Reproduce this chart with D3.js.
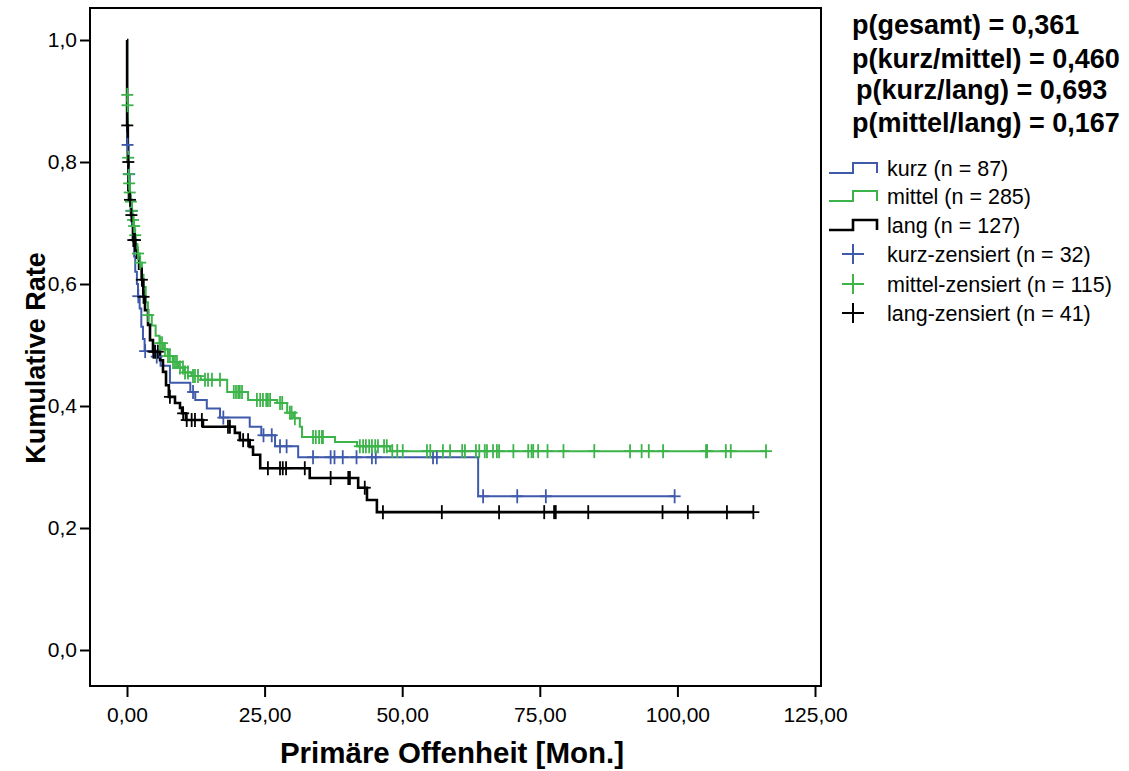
<!DOCTYPE html>
<html>
<head>
<meta charset="utf-8">
<script src="https://cdn.jsdelivr.net/npm/d3@7"></script>
<style>
  html, body { margin: 0; padding: 0; background: #fff; }
  svg { display: block; font-family: "Liberation Sans", Arial, sans-serif; }
</style>
</head>
<body>
<svg id="chart" width="1129" height="771"></svg>
<script>
// Kaplan-Meier estimates: event times (months) and survival after each step
const kurzTimes    = [0.02, 0.3, 0.5, 0.7, 0.9, 1.1, 1.3, 1.5, 1.8, 2.0, 2.3, 2.6, 2.9, 3.2, 4.8, 6.1, 7.8, 11.5, 12.4, 14.5, 16.9, 22.3, 24.4, 26.9, 31.1, 63.8];
const kurzSurvival = [0.828, 0.78, 0.745, 0.72, 0.695, 0.67, 0.645, 0.62, 0.60, 0.58, 0.56, 0.53, 0.51, 0.49, 0.481, 0.466, 0.438, 0.423, 0.41, 0.396, 0.381, 0.366, 0.352, 0.334, 0.316, 0.252];
const kurzCensored = [0.1, 0.4, 0.8, 2.05, 3.3, 5.4, 12.0, 17.5, 24.8, 26.3, 27.8, 29.0, 33.8, 37.0, 37.7, 39.2, 41.7, 44.5, 45.2, 55.6, 56.3, 64.7, 70.9, 76.1, 99.5];

const mittelTimes    = [0.02, 0.08, 0.15, 0.2, 0.27, 0.35, 0.45, 0.6, 0.8, 1.0, 1.2, 1.4, 1.6, 1.9, 2.3, 2.7, 3.0, 3.4, 3.8, 4.5, 5.2, 5.9, 6.6, 7.4, 8.3, 9.3, 10.5, 11.7, 13.4, 18.2, 22.0, 27.3, 29.1, 30.2, 31.4, 31.8, 37.8, 41.8, 47.8];
const mittelSurvival = [0.91, 0.893, 0.83, 0.807, 0.78, 0.765, 0.75, 0.735, 0.72, 0.705, 0.695, 0.68, 0.665, 0.65, 0.635, 0.615, 0.595, 0.57, 0.549, 0.532, 0.515, 0.503, 0.493, 0.482, 0.472, 0.463, 0.455, 0.449, 0.443, 0.423, 0.410, 0.405, 0.389, 0.380, 0.366, 0.349, 0.341, 0.334, 0.326];
const mittelCensored = [0.05, 0.1, 0.22, 0.3, 0.4, 0.5, 0.7, 0.9, 1.1, 1.3, 1.5, 2.0, 2.4, 3.85, 6.0, 6.36, 6.9, 7.45, 7.8, 8.36, 8.72, 9.08, 9.63, 10.17, 10.54, 11.08, 11.99, 12.35, 12.9, 14.17, 14.72, 15.44, 16.9, 19.4, 19.8, 20.2, 20.5, 20.9, 23.6, 24.2, 24.7, 25.3, 25.6, 26.0, 27.8, 28.2, 29.6, 29.9, 30.5, 33.8, 34.3, 34.9, 35.4, 35.6, 42.3, 42.9, 43.4, 44.0, 44.5, 45.1, 45.6, 46.7, 47.2, 48.2, 49.1, 50.1, 54.5, 55.1, 57.4, 58.7, 60.9, 61.4, 63.4, 64.0, 65.0, 65.4, 66.5, 67.2, 67.6, 70.2, 72.9, 73.5, 73.8, 74.7, 76.4, 79.3, 84.9, 91.4, 93.5, 94.8, 97.4, 105.2, 105.4, 108.8, 109.7, 116.1];

const langTimes    = [0.02, 0.15, 0.25, 0.36, 0.73, 1.09, 1.5, 1.82, 2.2, 2.67, 2.96, 3.27, 3.82, 4.18, 4.72, 6.0, 6.54, 7.09, 7.6, 8.72, 9.63, 10.0, 10.7, 13.8, 19.6, 20.5, 22.3, 22.9, 24.2, 33.2, 42.0, 43.6, 45.4];
const langSurvival = [0.86, 0.80, 0.754, 0.738, 0.713, 0.672, 0.655, 0.643, 0.625, 0.607, 0.579, 0.557, 0.533, 0.508, 0.489, 0.475, 0.456, 0.434, 0.415, 0.405, 0.397, 0.388, 0.377, 0.366, 0.356, 0.344, 0.333, 0.320, 0.298, 0.282, 0.266, 0.246, 0.226];
const langCensored = [0.05, 0.24, 0.55, 0.8, 1.15, 1.45, 2.7, 3.0, 4.8, 5.1, 5.6, 7.8, 10.2, 10.85, 11.75, 12.35, 13.6, 18.35, 18.7, 21.1, 22.0, 25.6, 27.8, 28.3, 28.9, 32.3, 37.0, 40.2, 40.5, 43.2, 46.5, 57.2, 67.6, 75.8, 77.6, 77.9, 83.8, 97.3, 101.9, 109.0, 113.8];

const groupNames   = ["kurz", "mittel", "lang"];
const groupN       = [87, 285, 127];
const censoredN    = [32, 115, 41];
const groupColors  = ["#3f5aab", "#3cb44a", "#000000"];
const groupWidths  = [2, 2, 2.6];

const xTicks = [0, 25, 50, 75, 100, 125];
const yTicks = [0, 0.2, 0.4, 0.6, 0.8, 1.0];

const pLabels = ["p(gesamt) = 0,361", "p(kurz/mittel) = 0,460", "p(kurz/lang) = 0,693", "p(mittel/lang) = 0,167"];

const xTitle = "Primäre Offenheit [Mon.]";
const yTitle = "Kumulative Rate";

// ---- layout ----
const frame = { left: 90, right: 821, top: 8, bottom: 686 };
const svg = d3.select("#chart");

const x = d3.scaleLinear().domain([0, 125]).range([127, 815]);
const y = d3.scaleLinear().domain([0, 1]).range([650, 40]);

const groups = [
  { times: kurzTimes, surv: kurzSurvival, cens: kurzCensored },
  { times: mittelTimes, surv: mittelSurvival, cens: mittelCensored },
  { times: langTimes, surv: langSurvival, cens: langCensored }
];

// survival at time t from the step function
function survAt(g, t) {
  let s = 1;
  for (let i = 0; i < g.times.length; i++) {
    if (g.times[i] <= t) s = g.surv[i]; else break;
  }
  return s;
}

// frame
svg.append("rect")
  .attr("x", frame.left).attr("y", frame.top)
  .attr("width", frame.right - frame.left).attr("height", frame.bottom - frame.top)
  .attr("fill", "none").attr("stroke", "#000").attr("stroke-width", 2);

// axes
const fmtY = d => d.toFixed(1).replace(".", ",");
const fmtX = d => d.toFixed(2).replace(".", ",");

const yAxis = svg.append("g")
  .attr("transform", `translate(${frame.left},0)`)
  .call(d3.axisLeft(y).tickValues(yTicks).tickFormat(fmtY).tickSize(10).tickPadding(3));
const xAxis = svg.append("g")
  .attr("transform", `translate(0,${frame.bottom})`)
  .call(d3.axisBottom(x).tickValues(xTicks).tickFormat(fmtX).tickSize(11).tickPadding(10));

[xAxis, yAxis].forEach(a => {
  a.select(".domain").remove();
  a.selectAll(".tick line").attr("stroke", "#000").attr("stroke-width", 2);
  a.selectAll(".tick text")
    .attr("fill", "#000")
    .style("font-family", "'Liberation Sans', Arial, sans-serif")
    .style("font-size", "21px");
});

// axis titles
svg.append("text")
  .attr("x", 452).attr("y", 763)
  .attr("text-anchor", "middle")
  .style("font-size", "29.5px").style("font-weight", "bold")
  .text(xTitle);

svg.append("text")
  .attr("transform", "translate(45,358) rotate(-90)")
  .attr("text-anchor", "middle")
  .style("font-size", "27px").style("font-weight", "bold")
  .text(yTitle);

// survival curves
const line = d3.line()
  .x(d => x(d[0]))
  .y(d => y(d[1]))
  .curve(d3.curveStepAfter);

groups.forEach((g, i) => {
  const lastT = Math.max(g.times[g.times.length - 1], d3.max(g.cens));
  const pts = [[0, 1]].concat(g.times.map((t, j) => [t, g.surv[j]]));
  pts.push([lastT, survAt(g, lastT)]);
  svg.append("path")
    .datum(pts)
    .attr("d", line)
    .attr("fill", "none")
    .attr("stroke", groupColors[i])
    .attr("stroke-width", groupWidths[i]);
});

// censoring marks
groups.forEach((g, i) => {
  const marks = svg.append("g").attr("stroke", groupColors[i]).attr("stroke-width", 1.8);
  g.cens.forEach(t => {
    const cx = x(t), cy = y(survAt(g, t));
    marks.append("line").attr("x1", cx - 6).attr("x2", cx + 6).attr("y1", cy).attr("y2", cy);
    marks.append("line").attr("x1", cx).attr("x2", cx).attr("y1", cy - 7).attr("y2", cy + 7);
  });
});

// p-values
const pX = [852, 852, 856, 852];
const pY = [34, 68, 99, 132];
pLabels.forEach((s, i) => {
  svg.append("text")
    .attr("x", pX[i]).attr("y", pY[i])
    .style("font-size", "27px").style("font-weight", "bold")
    .text(s);
});

// legend
const legRow = [168, 196, 225, 254, 284, 313];
groupNames.forEach((name, i) => {
  const cy = legRow[i];
  svg.append("path")
    .attr("d", `M829,${cy + 5}H853V${cy - 5}H877V${cy + 5}`)
    .attr("fill", "none")
    .attr("stroke", groupColors[i])
    .attr("stroke-width", groupWidths[i]);
  svg.append("text")
    .attr("x", 887).attr("y", cy).attr("dy", "0.35em")
    .style("font-size", "21.5px")
    .text(`${name} (n = ${groupN[i]})`);
});
groupNames.forEach((name, i) => {
  const cy = legRow[i + 3];
  const gm = svg.append("g").attr("stroke", groupColors[i]).attr("stroke-width", 2);
  gm.append("line").attr("x1", 842).attr("x2", 864).attr("y1", cy).attr("y2", cy);
  gm.append("line").attr("x1", 853).attr("x2", 853).attr("y1", cy - 10).attr("y2", cy + 10);
  svg.append("text")
    .attr("x", 887).attr("y", cy).attr("dy", "0.35em")
    .style("font-size", "21.5px")
    .text(`${name}-zensiert (n = ${censoredN[i]})`);
});
</script>
</body>
</html>
